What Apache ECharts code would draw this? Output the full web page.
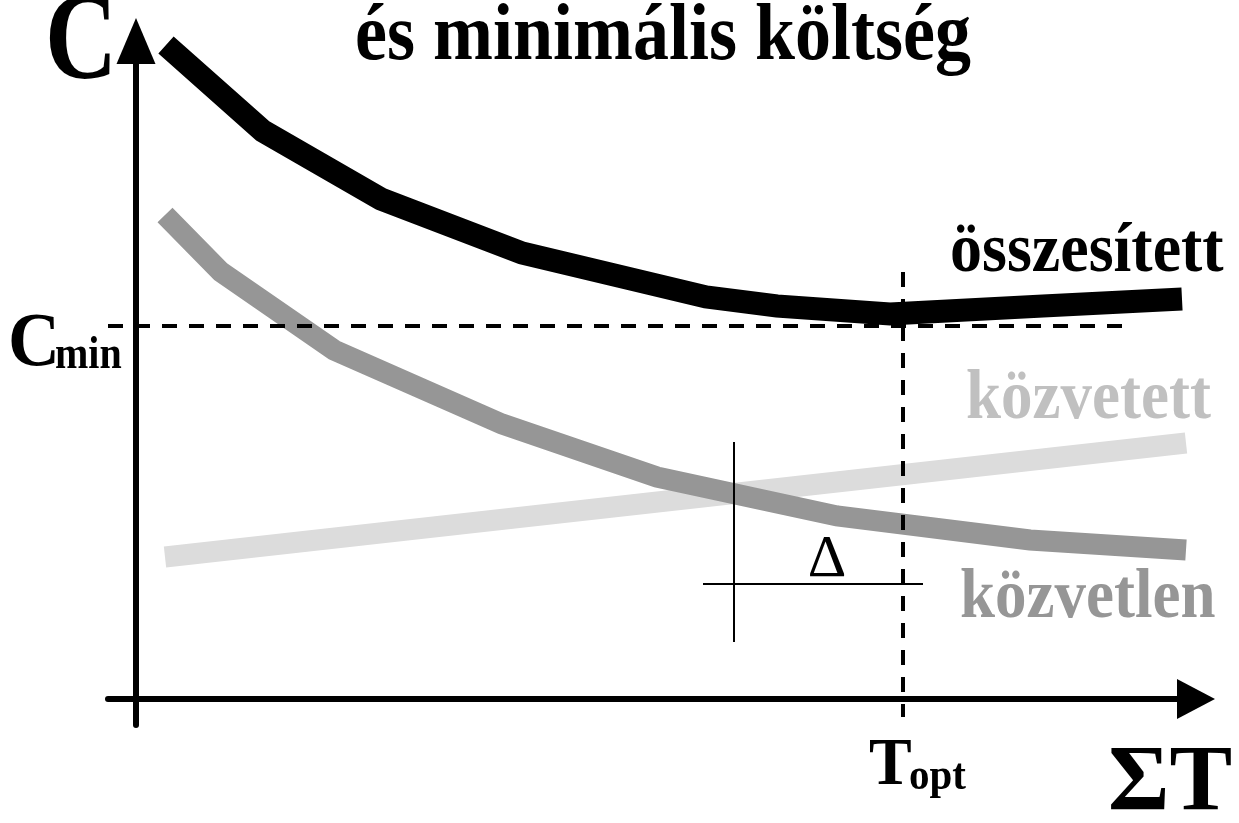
<!DOCTYPE html>
<html>
<head>
<meta charset="utf-8">
<script src="https://cdn.jsdelivr.net/npm/echarts@6/dist/echarts.min.js"></script>
<style>
  html, body { margin: 0; padding: 0; background: #fff; }
  #chart { width: 1239px; height: 823px; }
</style>
</head>
<body>
<div id="chart"></div>
<script>
// görbék (x: átfutási idő, y: költség) - tetszőleges egységek
var osszesitett = [[3.0, 65.4], [12.7, 56.8], [24.5, 50.0], [38.6, 44.6], [57.0, 40.2], [64.1, 39.3], [75.4, 38.5], [90.7, 39.3], [104.6, 40.0]];
var kozvetlen = [[2.9, 48.4], [8.5, 42.7], [19.8, 34.9], [36.6, 27.5], [52.1, 22.2], [70.1, 18.3], [89.4, 15.9], [105.0, 14.9]];
var kozvetett = [[2.9, 14.2], [105.0, 25.6]];
var seriesNames = ['összesített', 'közvetett', 'közvetlen'];

var cMin = 37.3;          // minimális költség
var tOpt = 76.7;          // optimális átfutási idő
var cMinLineEnd = 99.7;
var tOptLineTop = 42.7, tOptLineBottom = -1.8;
var deltaX = 59.8, deltaTop = 25.7, deltaBottom = 5.7;
var deltaY = 11.5, deltaLeft = 56.7, deltaRight = 78.7;
var xRange = [-2.8, 106.0];
var yRange = [-2.6, 65.8];

var serif = '"Liberation Serif", "DejaVu Serif", serif';

var myChart = echarts.init(document.getElementById('chart'));

// a szöveg kicsit magasabb betűkkel (függőlegesen nyújtva), mint az eredetin
function txt(str, x, y, size, opts) {
    opts = opts || {};
    return {
        type: 'text',
        x: x, y: y,
        scaleY: opts.sy || 1,
        z: 10,
        style: {
            text: str,
            font: (opts.weight || 'bold') + ' ' + size + 'px ' + serif,
            fill: opts.color || '#000',
            textAlign: opts.align || 'left',
            textVerticalAlign: 'middle'
        }
    };
}

var option = {
    backgroundColor: '#fff',
    animation: false,
    grid: { left: 108, right: 43, top: 41, bottom: 98 },
    xAxis: {
        type: 'value',
        min: xRange[0], max: xRange[1],
        splitLine: { show: false },
        axisTick: { show: false },
        axisLabel: { show: false },
        axisLine: {
            onZero: true,
            symbol: ['none', 'triangle'],
            symbolSize: [40, 38],
            lineStyle: { color: '#000', width: 6 }
        }
    },
    yAxis: {
        type: 'value',
        min: yRange[0], max: yRange[1],
        splitLine: { show: false },
        axisTick: { show: false },
        axisLabel: { show: false },
        axisLine: {
            onZero: true,
            symbol: ['none', 'triangle'],
            symbolSize: [39, 46],
            lineStyle: { color: '#000', width: 6 }
        }
    },
    series: [
        {
            name: seriesNames[1],
            type: 'line',
            data: kozvetett,
            showSymbol: false,
            lineStyle: { color: '#dcdcdc', width: 21, cap: 'butt', join: 'miter' }
        },
        {
            name: seriesNames[2],
            type: 'line',
            data: kozvetlen,
            showSymbol: false,
            lineStyle: { color: '#969696', width: 21, cap: 'butt', join: 'miter' }
        },
        {
            name: seriesNames[0],
            type: 'line',
            data: osszesitett,
            showSymbol: false,
            lineStyle: { color: '#000', width: 23, cap: 'butt', join: 'miter' }
        },
        {
            type: 'line',
            data: [],
            markLine: {
                silent: true,
                symbol: ['none', 'none'],
                label: { show: false },
                lineStyle: { color: '#000', width: 4, type: [15, 12] },
                data: [
                    [{ coord: [xRange[0], cMin] }, { coord: [cMinLineEnd, cMin] }],
                    [{ coord: [tOpt, tOptLineTop] }, { coord: [tOpt, tOptLineBottom] }]
                ]
            }
        },
        {
            type: 'line',
            data: [],
            markLine: {
                silent: true,
                symbol: ['none', 'none'],
                label: { show: false },
                lineStyle: { color: '#000', width: 2, type: 'solid' },
                data: [
                    [{ coord: [deltaX, deltaTop] }, { coord: [deltaX, deltaBottom] }],
                    [{ coord: [deltaLeft, deltaY] }, { coord: [deltaRight, deltaY] }]
                ]
            }
        }
    ],
    graphic: [
        txt('C', 45, 46, 100, { sy: 1.22 }),
        txt('és minimális költség', 663, 38, 72, { align: 'center', sy: 1.12 }),
        txt('C', 8, 345, 72, { sy: 1.05 }),
        txt('min', 55, 356, 40, { sy: 1.15 }),
        txt('T', 869, 767, 64, { sy: 1.05 }),
        txt('opt', 909, 777, 41, { sy: 1.1 }),
        txt('ΣT', 1108, 785, 94),
        txt(seriesNames[0], 950, 253, 64, { sy: 1.1 }),
        txt(seriesNames[1], 966, 400, 63, { sy: 1.1, color: '#c0c0c0' }),
        txt(seriesNames[2], 960, 599, 63, { sy: 1.1, color: '#969696' }),
        txt('Δ', 827, 560, 60, { align: 'center', weight: 'normal' })
    ]
};
myChart.setOption(option);
window.addEventListener('resize', function () {
    myChart.resize();
});
</script>
</body>
</html>
